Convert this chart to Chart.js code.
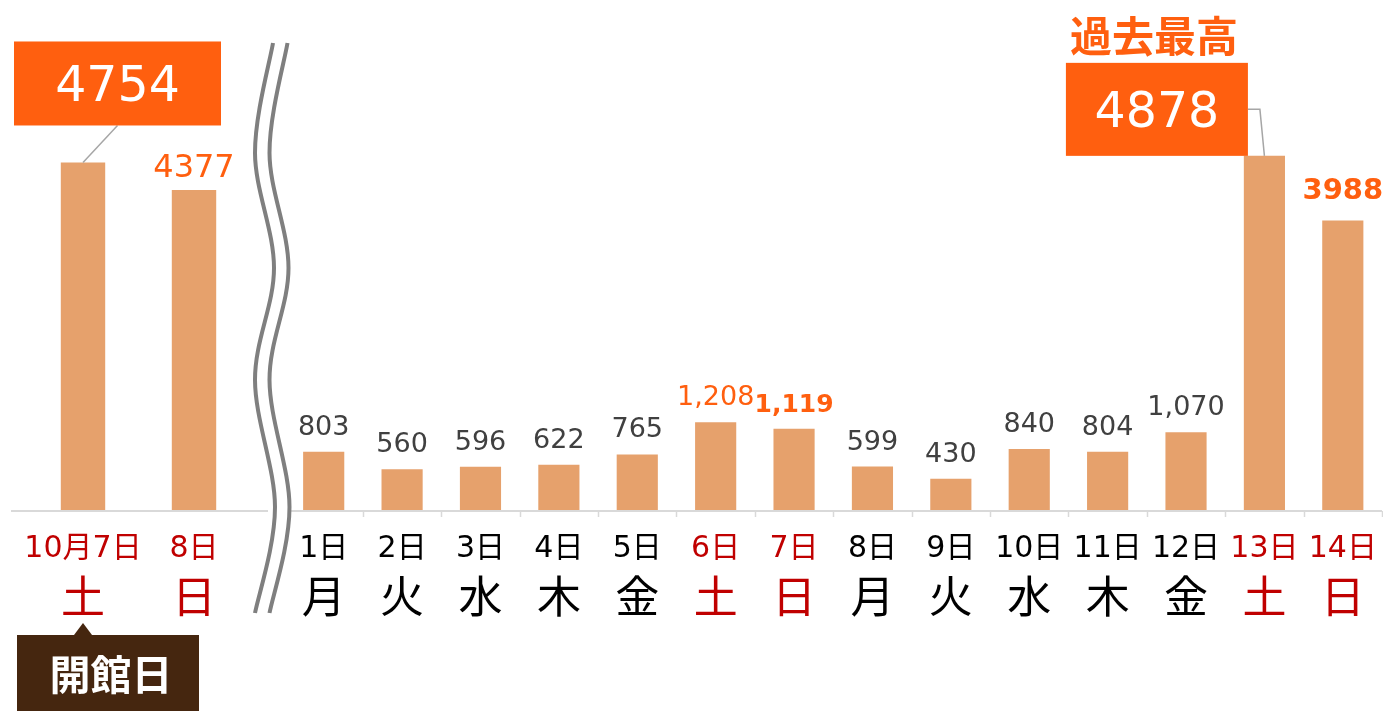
<!DOCTYPE html>
<html lang="ja">
<head>
<meta charset="utf-8">
<title>来館者数</title>
<script src="https://cdn.jsdelivr.net/npm/chart.js@4.4.1/dist/chart.umd.min.js"></script>
<style>
  html, body { margin: 0; padding: 0; background: #fff; overflow: hidden; }
  .wrap { position: relative; width: 1383px; height: 711px; }
  .wrap canvas { position: absolute; left: 0; top: 0; }
</style>
</head>
<body>
<div class="wrap">
  <canvas id="openingChart" width="1383" height="711"></canvas>
  <canvas id="dailyChart" width="1383" height="711"></canvas>
</div>
<script>
// Opening weekend (10月)
const openDates = ['10月7日', '8日'];
const openDays = ['土', '日'];
const openVisitors = [4754, 4377];

// Following days
const dates = ['1日', '2日', '3日', '4日', '5日', '6日', '7日', '8日', '9日', '10日', '11日', '12日', '13日', '14日'];
const days = ['月', '火', '水', '木', '金', '土', '日', '月', '火', '水', '木', '金', '土', '日'];
const visitors = [803, 560, 596, 622, 765, 1208, 1119, 599, 430, 840, 804, 1070, 4878, 3988];

const yMax = 5000;

// Styles
const BAR_COLOR = '#E6A16C';
const ORANGE = '#FF5F0F';
const RED = '#C00000';
const NUM_FONT = '"DejaVu Sans", "Noto Sans CJK JP", sans-serif';
const JP_FONT = '"Noto Sans CJK JP", sans-serif';

const labelStyles = {
    normal:     { size: 27, weight: 'normal', color: '#404040', gap: 17, comma: true },
    orange:     { size: 27, weight: 'normal', color: ORANGE, gap: 17, comma: true },
    orangeBold: { size: 25, weight: 'bold', color: ORANGE, gap: 17, comma: true },
    big:        { size: 32, weight: 'normal', color: ORANGE, gap: 13, comma: false },
    bigBold:    { size: 29, weight: 'bold', color: ORANGE, gap: 21, comma: false },
    callout:    null
};
const openLabelKinds = ['callout', 'big'];
const dailyLabelKinds = ['normal', 'normal', 'normal', 'normal', 'normal', 'orange', 'orangeBold',
    'normal', 'normal', 'normal', 'normal', 'normal', 'callout', 'bigBold'];

function isWeekend(day) {
    return day === '土' || day === '日';
}

function fmt(v, comma) {
    return comma ? v.toLocaleString('en-US') : String(v);
}

// Draws baseline, value labels, date + weekday labels
const panelPlugin = {
    id: 'panel',
    afterDatasetsDraw(chart, args, opts) {
        const ctx = chart.ctx;
        const area = chart.chartArea;
        const bars = chart.getDatasetMeta(0).data;
        const values = chart.data.datasets[0].data;
        ctx.save();

        // axis line
        ctx.strokeStyle = '#D9D9D9';
        ctx.lineWidth = 2;
        ctx.beginPath();
        ctx.moveTo(area.left - opts.axisExtend[0], area.bottom + 1);
        ctx.lineTo(area.right + opts.axisExtend[1], area.bottom + 1);
        ctx.stroke();
        if (opts.ticks) {
            ctx.lineWidth = 1.5;
            const step = (area.right - area.left) / values.length;
            for (let i = 0; i <= values.length; i++) {
                const x = Math.round(area.left + i * step) + 0.5;
                ctx.beginPath();
                ctx.moveTo(x, area.bottom + 1);
                ctx.lineTo(x, area.bottom + 7);
                ctx.stroke();
            }
        }

        // value labels
        ctx.textAlign = 'center';
        ctx.textBaseline = 'alphabetic';
        bars.forEach((bar, i) => {
            const st = labelStyles[opts.kinds[i]];
            if (!st) return;
            ctx.font = `${st.weight} ${st.size}px ${NUM_FONT}`;
            ctx.fillStyle = st.color;
            ctx.fillText(fmt(values[i], st.comma), bar.x, bar.y - st.gap);
        });

        // category labels
        bars.forEach((bar, i) => {
            const color = isWeekend(opts.days[i]) ? RED : '#000000';
            ctx.fillStyle = color;
            ctx.font = `30px ${NUM_FONT}`;
            ctx.textBaseline = 'alphabetic';
            ctx.fillText(opts.dates[i], bar.x, 557);
            ctx.font = `44px ${JP_FONT}`;
            ctx.textBaseline = 'middle';
            ctx.fillText(opts.days[i], bar.x, 596);
        });
        ctx.restore();
    }
};

function drawBox(ctx, box, text, fill) {
    ctx.fillStyle = fill;
    ctx.fillRect(box.x, box.y, box.w, box.h);
    ctx.fillStyle = '#FFFFFF';
    ctx.font = `49px ${NUM_FONT}`;
    ctx.textAlign = 'center';
    ctx.textBaseline = 'alphabetic';
    ctx.fillText(text, box.x + box.w / 2, box.y + box.h / 2 + 18);
}

// Opening day callouts
const openingPlugin = {
    id: 'openingNotes',
    afterDraw(chart) {
        const ctx = chart.ctx;
        const bar = chart.getDatasetMeta(0).data[0];
        const value = chart.data.datasets[0].data[0];
        ctx.save();
        const box = { x: bar.x - 69, y: bar.y - 121, w: 207, h: 84 };
        ctx.strokeStyle = '#A6A6A6';
        ctx.lineWidth = 1.5;
        ctx.beginPath();
        ctx.moveTo(box.x + box.w / 2, box.y + box.h);
        ctx.lineTo(bar.x, bar.y);
        ctx.stroke();
        drawBox(ctx, box, String(value), ORANGE);

        // 開館日 tag below the weekday
        const tip = { x: bar.x, y: 623 };
        const tag = { x: tip.x - 66, y: 635, w: 182, h: 80 };
        ctx.fillStyle = '#45260F';
        ctx.beginPath();
        ctx.moveTo(tip.x, tip.y);
        ctx.lineTo(tip.x + 9, tag.y);
        ctx.lineTo(tip.x - 9, tag.y);
        ctx.closePath();
        ctx.fill();
        ctx.fillRect(tag.x, tag.y, tag.w, tag.h);
        ctx.fillStyle = '#FFFFFF';
        ctx.font = `bold 41px ${JP_FONT}`;
        ctx.textAlign = 'center';
        ctx.textBaseline = 'middle';
        ctx.fillText('開館日', tag.x + tag.w / 2 + 3, 674);
        ctx.restore();
    }
};

// Record callout + axis break
const dailyPlugin = {
    id: 'dailyNotes',
    afterDraw(chart) {
        const ctx = chart.ctx;
        const idx = dailyLabelKinds.indexOf('callout');
        const bar = chart.getDatasetMeta(0).data[idx];
        const value = chart.data.datasets[0].data[idx];
        ctx.save();
        const box = { x: bar.x - 16.5 - 182, y: bar.y - 93, w: 182, h: 93 };
        ctx.strokeStyle = '#A6A6A6';
        ctx.lineWidth = 1.5;
        ctx.beginPath();
        ctx.moveTo(box.x + box.w, box.y + box.h / 2);
        ctx.lineTo(box.x + box.w + 12, box.y + box.h / 2);
        ctx.lineTo(bar.x, bar.y);
        ctx.stroke();
        drawBox(ctx, box, String(value), ORANGE);
        ctx.fillStyle = ORANGE;
        ctx.font = `bold 42px ${JP_FONT}`;
        ctx.textAlign = 'center';
        ctx.textBaseline = 'middle';
        ctx.fillText('過去最高', box.x + box.w / 2 - 3, box.y - 27);

        // wavy break between the two panels
        const pts = [[273, 43], [255, 153], [274, 268], [255, 380], [275, 507], [255, 613]];
        const wave = (dx) => {
            ctx.beginPath();
            ctx.moveTo(pts[0][0] + dx, pts[0][1]);
            for (let i = 0; i < pts.length - 1; i++) {
                const p0 = pts[Math.max(i - 1, 0)], p1 = pts[i], p2 = pts[i + 1], p3 = pts[Math.min(i + 2, pts.length - 1)];
                ctx.bezierCurveTo(
                    p1[0] + (p2[0] - p0[0]) / 6 + dx, p1[1] + (p2[1] - p0[1]) / 6,
                    p2[0] - (p3[0] - p1[0]) / 6 + dx, p2[1] - (p3[1] - p1[1]) / 6,
                    p2[0] + dx, p2[1]);
            }
            ctx.stroke();
        };
        ctx.strokeStyle = '#FFFFFF';
        ctx.lineWidth = 13;
        wave(7);
        ctx.strokeStyle = '#7F7F7F';
        ctx.lineWidth = 4;
        wave(0);
        wave(14.5);
        ctx.restore();
    }
};

function makeChart(id, labels, values, barPct, padding, panelOpts, extraPlugin) {
    return new Chart(document.getElementById(id), {
        type: 'bar',
        data: {
            labels: labels,
            datasets: [{ data: values, backgroundColor: BAR_COLOR, borderWidth: 0, barPercentage: barPct, categoryPercentage: 1 }]
        },
        options: {
            responsive: false,
            animation: false,
            devicePixelRatio: 1,
            layout: { padding: padding },
            scales: {
                x: { display: false },
                y: { display: false, min: 0, max: yMax }
            },
            plugins: {
                legend: { display: false },
                tooltip: { enabled: false },
                panel: panelOpts
            }
        },
        plugins: [panelPlugin, extraPlugin]
    });
}

const openingChart = makeChart('openingChart', openDates, openVisitors, 0.4,
    { left: 27.5, right: 1133.5, top: 144.5, bottom: 201 },
    { axisExtend: [16.5, 18.5], ticks: false, kinds: openLabelKinds, dates: openDates, days: openDays },
    openingPlugin);

const dailyChart = makeChart('dailyChart', dates, visitors, 0.525,
    { left: 284.5, right: 1, top: 147, bottom: 201 },
    { axisExtend: [0, 0], ticks: true, kinds: dailyLabelKinds, dates: dates, days: days },
    dailyPlugin);
</script>
</body>
</html>
